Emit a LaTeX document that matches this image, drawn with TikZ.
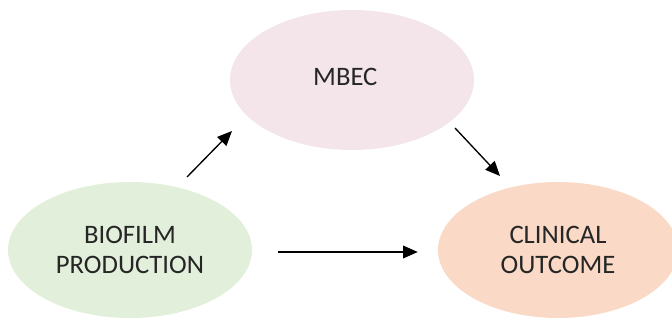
\documentclass[tikz,border=0pt]{standalone}
\usepackage{fontspec}
\setmainfont{Carlito}
\usetikzlibrary{shapes.geometric,arrows.meta}
\definecolor{biogreen}{HTML}{E2EFDA}
\definecolor{mbecpink}{HTML}{F4E5EA}
\definecolor{clinpeach}{HTML}{FADAC6}
\tikzset{
	blob/.style={ellipse, inner sep=0pt, align=center, text=black!85, minimum width=183pt, minimum height=102pt},
	link/.style={->, line width=1pt}
}
\begin{document}
\begin{tikzpicture}[x=0.75pt, y=-0.75pt, font=\fontsize{20}{22.5}\selectfont, line join=round, >={Triangle[length=11pt,width=9.5pt]}]
				\useasboundingbox (0,0) rectangle (672,320);
				\clip (0,0) rectangle (672,320);
				\node[blob, fill=biogreen] (bio) at (130,250) {BIOFILM\\PRODUCTION};
				\node[blob, fill=mbecpink, minimum height=105pt] (mbec) at (352,80) {\raisebox{4pt}{MBEC\hspace{10pt}}};
				\node[blob, fill=clinpeach, minimum width=180pt] (clin) at (558,250) {CLINICAL\\OUTCOME};
				\draw[link] ([shift={(57,-73)}]bio.center) -- ([shift={(-120,51)}]mbec.center);
				\draw[link] ([shift={(103,48)}]mbec.center) -- ([shift={(-58,-74)}]clin.center);
				\draw[link] ([shift={(26,2)}]bio.east) -- ([shift={(-20,2)}]clin.west);
			\end{tikzpicture}
\end{document}
